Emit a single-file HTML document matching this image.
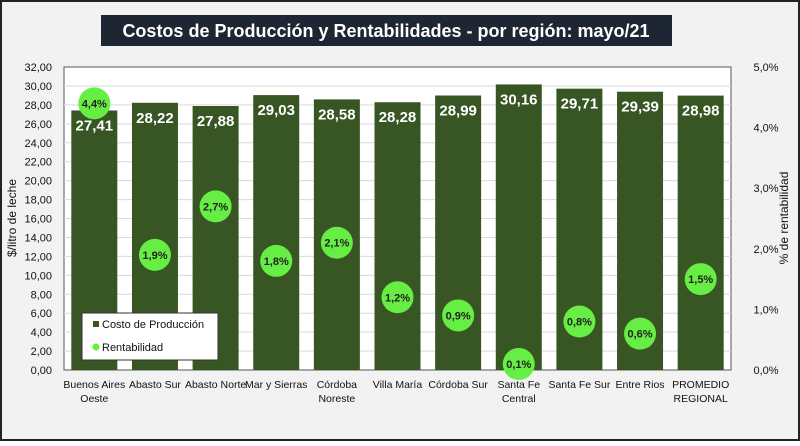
<!DOCTYPE html>
<html><head><meta charset="utf-8"><style>
body{margin:0;width:800px;height:441px;overflow:hidden;background:#fff}
svg text{font-family:"Liberation Sans",sans-serif}
</style></head><body>
<svg id="c" width="800" height="441" xmlns="http://www.w3.org/2000/svg">
<rect x="1" y="1" width="798" height="439" fill="#f2f2f2" stroke="#222" stroke-width="2"/>
<rect x="101" y="15" width="571" height="31" fill="#1f2633"/>
<text x="386" y="37" text-anchor="middle" fill="#fff" font-size="18" font-weight="bold">Costos de Producción y Rentabilidades - por región: mayo/21</text>
<rect x="64" y="67" width="667" height="303" fill="#fff" stroke="#555" stroke-width="1"/>
<g id="grid"></g><g id="bars"></g><g id="axes"></g><g id="pts"></g>
<text transform="translate(16,218) rotate(-90)" text-anchor="middle" font-size="12" fill="#111">$/litro de leche</text>
<text transform="translate(788,218) rotate(-90)" text-anchor="middle" font-size="12" fill="#111">% de rentabilidad</text>
<g>
<rect x="82" y="313" width="136" height="47" fill="#fff" stroke="#333"/>
<rect x="93" y="321" width="6" height="6" fill="#375623"/>
<text x="102" y="328" font-size="11" fill="#111">Costo de Producción</text>
<circle cx="96" cy="347" r="3.5" fill="#66ee44"/>
<text x="102" y="351" font-size="11" fill="#111">Rentabilidad</text>
</g>
</svg>
<script>
const categories=[["Buenos Aires","Oeste"],["Abasto Sur"],["Abasto Norte"],["Mar y Sierras"],["Córdoba","Noreste"],["Villa María"],["Córdoba Sur"],["Santa Fe","Central"],["Santa Fe Sur"],["Entre Rios"],["PROMEDIO","REGIONAL"]];
const costs=[27.41,28.22,27.88,29.03,28.58,28.28,28.99,30.16,29.71,29.39,28.98];
const rent=[4.4,1.9,2.7,1.8,2.1,1.2,0.9,0.1,0.8,0.6,1.5];
const leftTicks=[0,2,4,6,8,10,12,14,16,18,20,22,24,26,28,30,32];
const rightTicks=[0,1,2,3,4,5];
const X0=64,X1=731,Y0=370,Y1=67;
const n=categories.length,band=(X1-X0)/n;
const y=v=>Y0-(v/32)*(Y0-Y1);
const y2=v=>Y0-(v/5)*(Y0-Y1);
const xc=i=>X0+band*(i+0.5);
const NS="http://www.w3.org/2000/svg";
function mk(p,t,a,txt){const e=document.createElementNS(NS,t);for(const k in a)e.setAttribute(k,a[k]);if(txt!==undefined)e.textContent=txt;document.getElementById(p).appendChild(e);return e;}
const fmt=v=>v.toFixed(2).replace('.',',');
leftTicks.forEach(t=>{
 if(t>0&&t<32){const g=mk('grid','line',{x1:X0,x2:X1,y1:y(t),y2:y(t),stroke:'#d9d9d9'});
 
 }
 const l=mk('axes','text',{x:52,y:y(t)+4,'text-anchor':'end','font-size':11,fill:'#111'},fmt(t));
 
 
});
rightTicks.forEach(t=>{
 const l=mk('axes','text',{x:766,y:y2(t)+4,'text-anchor':'middle','font-size':11,fill:'#111'},t.toFixed(1).replace('.',',')+'%');
 
 
});
costs.forEach((v,i)=>{
 const bw=46;
 const r=mk('bars','rect',{x:xc(i)-bw/2,y:y(v),width:bw,height:Y0-y(v),fill:'#375623'});
 
 
 const t=mk('pts','text',{x:xc(i),y:y(v)+20,'text-anchor':'middle','font-size':15,'font-weight':'bold',fill:'#fff'},fmt(v));
 
 
 categories[i].forEach((s,j)=>{
  const c=mk('axes','text',{x:xc(i),y:388+j*14,'text-anchor':'middle','font-size':10.5,fill:'#111'},s);
  
  
 });
});
rent.forEach((v,i)=>{
 const c=mk('pts','circle',{cx:xc(i),cy:y2(v),r:16,fill:'#66ee44'});
 
 
 const t=mk('pts','text',{x:xc(i),y:y2(v)+4,'text-anchor':'middle','font-size':11,'font-weight':'bold',fill:'#222'},v.toFixed(1).replace('.',',')+'%');
 
 
});
</script>
</body></html>
